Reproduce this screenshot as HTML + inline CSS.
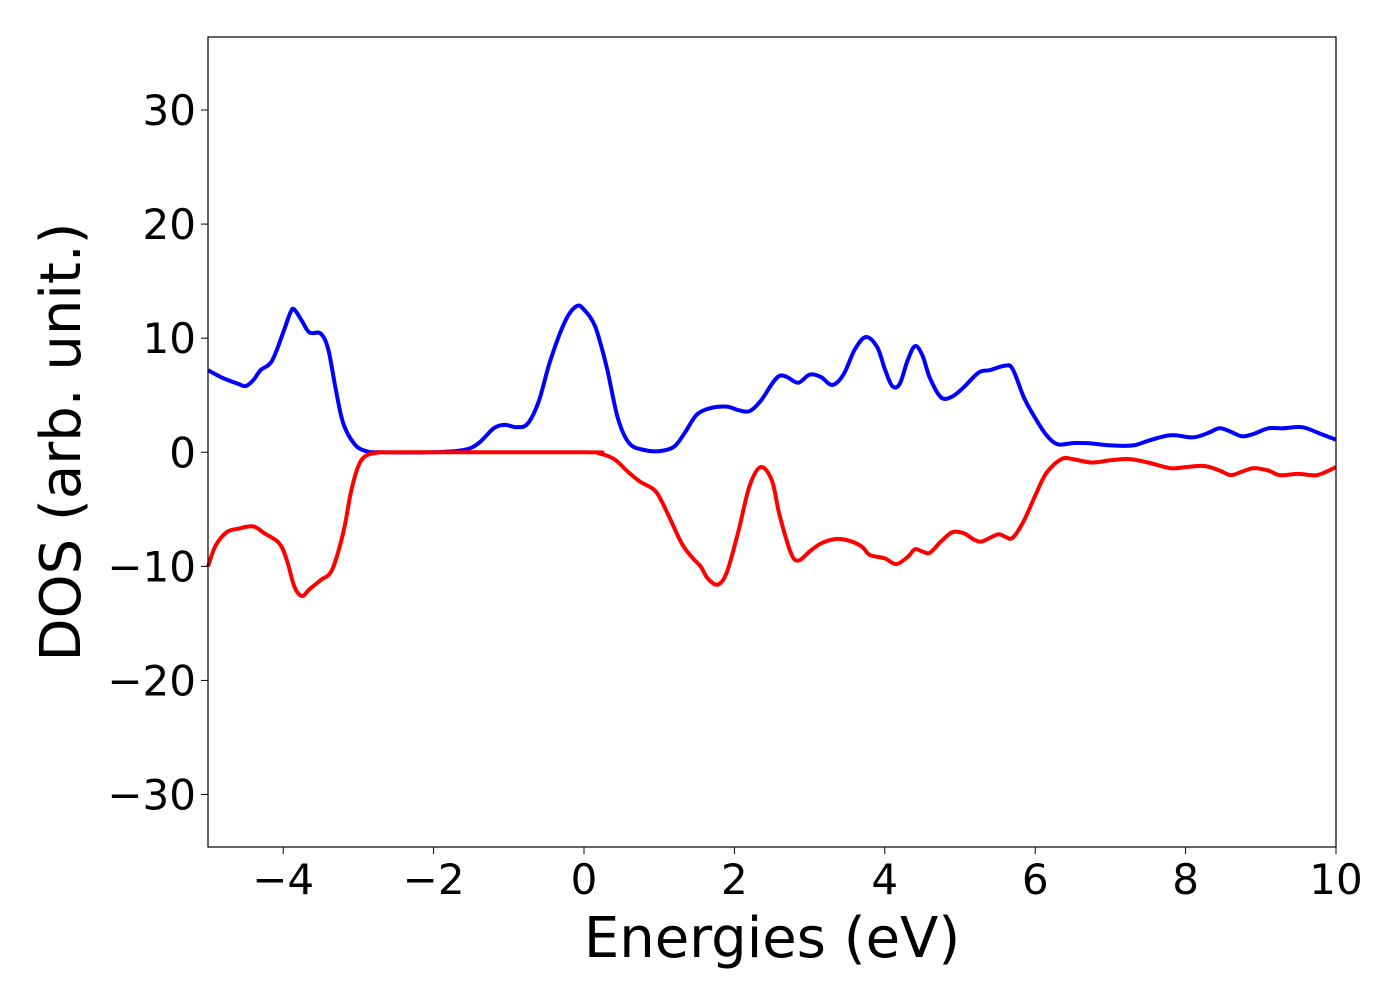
<!DOCTYPE html>
<html><head><meta charset="utf-8"><style>
body{margin:0;background:#fff;}
svg{display:block;font-family:"DejaVu Sans","Liberation Sans",sans-serif;}
</style></head><body>
<svg id="chart" width="1400" height="1000" viewBox="0 0 1400 1000">
<rect x="0" y="0" width="1400" height="1000" fill="#fff"/>
<g id="ticks"></g>
<g id="series"></g>
<rect x="208" y="37" width="1128" height="810" fill="none" stroke="#000" stroke-width="1.2"/>
<text x="772" y="957" font-size="56" text-anchor="middle">Energies (eV)</text>
<text transform="translate(80,442) rotate(-90)" font-size="56" text-anchor="middle">DOS (arb. unit.)</text>
</svg>
<script>
const xTicks=[-4,-2,0,2,4,6,8,10];
const xTickLabels=["\u22124","\u22122","0","2","4","6","8","10"];
const yTicks=[-30,-20,-10,0,10,20,30];
const yTickLabels=["\u221230","\u221220","\u221210","0","10","20","30"];
const upE=[-5,-4.8,-4.6,-4.5,-4.4,-4.3,-4.15,-4,-3.9,-3.85,-3.75,-3.65,-3.5,-3.4,-3.3,-3.2,-3.05,-2.9,-2.7,-2,-1.6,-1.4,-1.2,-1.05,-0.9,-0.75,-0.6,-0.45,-0.25,-0.1,0,0.15,0.3,0.45,0.6,0.8,1,1.2,1.35,1.5,1.7,1.9,2.05,2.2,2.35,2.5,2.6,2.7,2.85,3,3.15,3.3,3.45,3.6,3.75,3.9,4,4.1,4.2,4.3,4.4,4.5,4.6,4.75,4.9,5.05,5.25,5.4,5.6,5.7,5.85,6,6.15,6.3,6.5,6.7,7,7.3,7.5,7.8,8.1,8.3,8.45,8.6,8.75,8.9,9.1,9.3,9.55,9.8,10];
const upDOS=[7.2,6.5,6,5.8,6.3,7.2,8,10.5,12.3,12.5,11.5,10.5,10.4,9,5.5,2.5,0.7,0.1,0,0,0.2,0.8,2.1,2.4,2.2,2.5,4.5,8,11.5,12.8,12.5,11,7.5,3,0.8,0.2,0.1,0.5,1.8,3.3,3.9,4,3.7,3.6,4.5,6,6.7,6.6,6.1,6.8,6.6,5.9,6.8,9,10.1,9.2,7.3,5.8,6,8,9.3,8.5,6.5,4.8,4.9,5.7,7,7.2,7.6,7.3,4.8,3,1.5,0.7,0.8,0.8,0.6,0.6,1,1.5,1.3,1.7,2.1,1.8,1.4,1.6,2.1,2.1,2.2,1.6,1.1];
const dnE=[-5,-4.9,-4.75,-4.6,-4.4,-4.25,-4.05,-3.95,-3.85,-3.75,-3.65,-3.5,-3.35,-3.2,-3.1,-3,-2.9,-2.75,-2.5,0,0.2,0.4,0.6,0.75,0.95,1.1,1.3,1.45,1.55,1.65,1.78,1.9,2.05,2.2,2.35,2.5,2.6,2.75,2.85,3,3.15,3.35,3.55,3.7,3.8,4,4.15,4.3,4.4,4.5,4.6,4.75,4.9,5.05,5.2,5.3,5.5,5.6,5.7,5.85,6,6.15,6.35,6.5,6.75,7,7.25,7.5,7.8,8,8.25,8.45,8.6,8.75,8.9,9.1,9.25,9.5,9.75,10];
const dnDOS=[-10,-8.2,-7,-6.7,-6.5,-7.1,-8,-9.5,-11.8,-12.6,-12,-11.2,-10.3,-7,-3.5,-1.2,-0.3,-0.05,0,0,-0.1,-0.6,-1.8,-2.6,-3.4,-5.2,-8,-9.3,-10,-11.1,-11.6,-10.5,-7,-3,-1.3,-2.5,-5.5,-8.8,-9.5,-8.7,-8,-7.6,-7.8,-8.3,-9,-9.3,-9.8,-9.2,-8.5,-8.7,-8.8,-7.8,-7,-7.1,-7.7,-7.8,-7.2,-7.4,-7.5,-6,-3.8,-1.8,-0.6,-0.6,-0.9,-0.7,-0.6,-0.9,-1.4,-1.3,-1.2,-1.6,-2,-1.7,-1.4,-1.6,-2,-1.9,-2,-1.3];

const X0=208,X1=1336,Y0=847,Y1=37,XMIN=-5,XMAX=10,YMIN=-34.6,YMAX=36.4;
const sx=v=>X0+(v-XMIN)/(XMAX-XMIN)*(X1-X0);
const sy=v=>Y0-(v-YMIN)/(YMAX-YMIN)*(Y0-Y1);
const NS="http://www.w3.org/2000/svg";
const tg=document.getElementById('ticks');
xTicks.forEach((t,i)=>{
  const l=document.createElementNS(NS,'line');
  
  
  l.setAttribute('x1',sx(t));l.setAttribute('x2',sx(t));l.setAttribute('y1',847);l.setAttribute('y2',854);l.setAttribute('stroke','#000');
  tg.appendChild(l);
  const tx=document.createElementNS(NS,'text');
  
  
  tx.setAttribute('x',sx(t));tx.setAttribute('y',894);tx.setAttribute('font-size','42');tx.setAttribute('text-anchor','middle');
  tx.textContent=xTickLabels[i];tg.appendChild(tx);
});
yTicks.forEach((t,i)=>{
  const l=document.createElementNS(NS,'line');
  
  
  l.setAttribute('x1',201);l.setAttribute('x2',208);l.setAttribute('y1',sy(t));l.setAttribute('y2',sy(t));l.setAttribute('stroke','#000');
  tg.appendChild(l);
  const tx=document.createElementNS(NS,'text');
  
  
  tx.setAttribute('x',196);tx.setAttribute('y',sy(t)+15);tx.setAttribute('font-size','42');tx.setAttribute('text-anchor','end');
  tx.textContent=yTickLabels[i];tg.appendChild(tx);
});
function smooth(xs,ys){
  const p=xs.map((x,i)=>[sx(x),sy(ys[i])]);
  let d='M'+p[0][0].toFixed(1)+','+p[0][1].toFixed(1);
  for(let i=0;i<p.length-1;i++){
    const a=p[Math.max(0,i-1)],b=p[i],c=p[i+1],e=p[Math.min(p.length-1,i+2)];
    const c1=[b[0]+(c[0]-a[0])/6,b[1]+(c[1]-a[1])/6],c2=[c[0]-(e[0]-b[0])/6,c[1]-(e[1]-b[1])/6];
    d+=' C'+c1[0].toFixed(1)+','+c1[1].toFixed(1)+' '+c2[0].toFixed(1)+','+c2[1].toFixed(1)+' '+c[0].toFixed(1)+','+c[1].toFixed(1);
  }
  return d;
}
const sg=document.getElementById('series');
[[upE,upDOS,'#0000ff','spin-up-line'],[dnE,dnDOS,'#ff0000','spin-down-line']].forEach(s=>{
  const p=document.createElementNS(NS,'path');
  
  
  p.setAttribute('d',smooth(s[0],s[1]));p.setAttribute('fill','none');p.setAttribute('stroke',s[2]);p.setAttribute('stroke-width','4');
  sg.appendChild(p);
});
</script>
</body></html>
